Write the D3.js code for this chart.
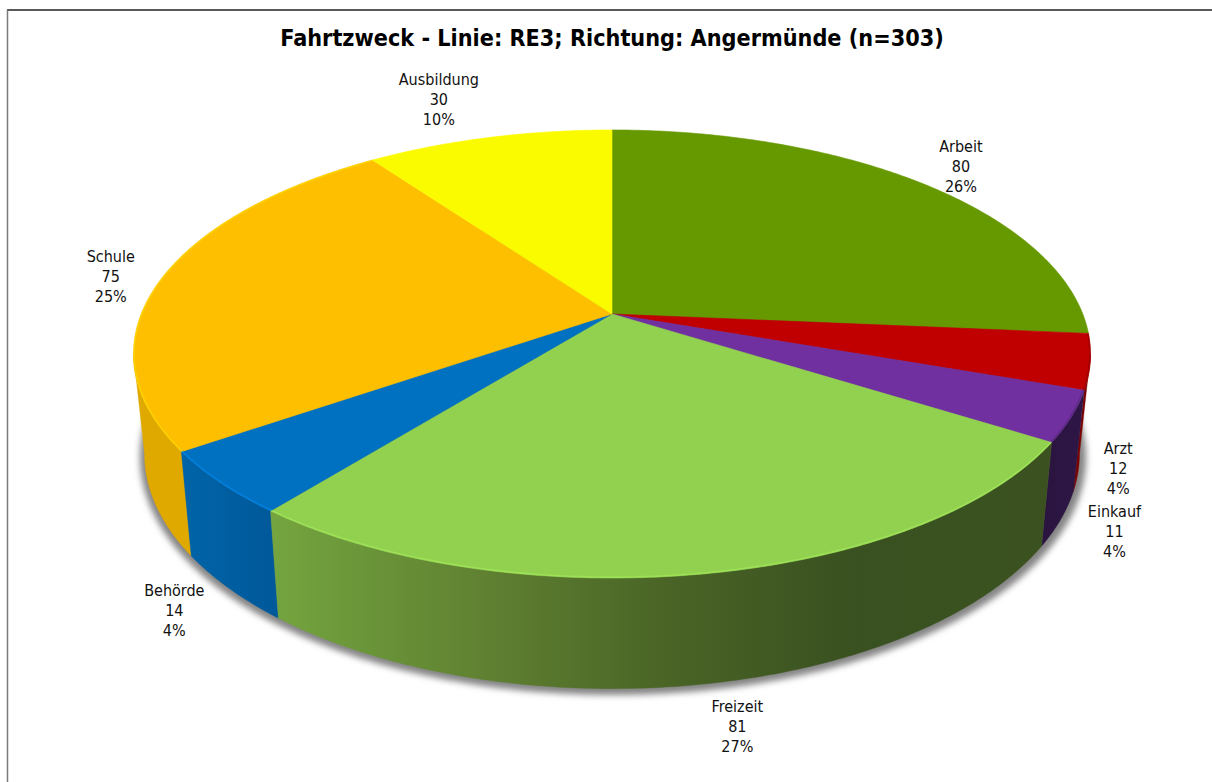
<!DOCTYPE html>
<html><head><meta charset="utf-8">
<script src="https://cdn.jsdelivr.net/npm/d3@7/dist/d3.min.js"></script>
<style>html,body{margin:0;padding:0;background:#fff}svg{display:block}</style>
</head><body><div id="c"></div>
<script>
const titleText = "Fahrtzweck - Linie: RE3; Richtung: Angermünde (n=303)";
const categories = ["Arbeit","Arzt","Einkauf","Freizeit","Behörde","Schule","Ausbildung"];
const counts = [80,12,11,81,14,75,30];
const percents = [26,4,4,27,4,25,10];
const topColors = ["#669900","#c00000","#7030a0","#92d050","#0070c0","#fdbf00","#fbfb00"];
const wallStops = [
  [["#3f5e00",0],["#3f5e00",1]],
  [["#7a0000",0],["#7a0000",1]],
  [["#2e1647",0],["#2b1540",1]],
  [["#3b5220",0],["#3a5120",.12],["#395020",.25],["#4a6526",.5],["#5f8031",.72],["#74a53f",1]],
  [["#00599a",0],["#0064a8",1]],
  [["#dfa900",0],["#dfa900",1]],
  [["#a0a000",0],["#a0a000",1]]
];
// rim shading per slice: colour shift and strength
const rimShift = [0,-.8,-.8,.5,.6,.5,0];
const rimOpacity = [0,.6,.6,.4,.6,.45,0];
// label offset from the rim point of each slice's mid-angle
const labelShift = [[39,-17],[28,107],[43,115],[31,153],[-46,128],[-51,-2],[-50,-38.5]];

const W=1212,H=782;
const cx=612,cy=314,k=.1786,rx=470.8,ry=216.9;
const depthY=97.4,scaleY=1.05,scaleX=.977;
const lineH=20;

const topP=a=>{const u=Math.sin(a),v=-Math.cos(a),w=1-k*v;return [cx+rx*u/w,cy+ry*v/w];};
const botP=a=>{const p=topP(a);return [cx+(p[0]-cx)*scaleX,cy+depthY+(p[1]-cy)*scaleY];};
const sample=(a0,a1,f)=>{const n=Math.max(2,Math.ceil(Math.abs(a1-a0)/0.01));return d3.range(n+1).map(i=>f(a0+(a1-a0)*i/n));};
const line=d3.line();

const svg=d3.select("#c").append("svg").attr("width",W).attr("height",H);
const defs=svg.append("defs");
defs.append("filter").attr("id","sh").attr("x","-5%").attr("y","-5%").attr("width","110%").attr("height","110%")
  .append("feGaussianBlur").attr("stdDeviation",3.4);

// frame
svg.append("line").attr("x1",7).attr("x2",W).attr("y1",10).attr("y2",10).attr("stroke","#222").attr("stroke-width",1.4);
svg.append("line").attr("x1",7.5).attr("x2",7.5).attr("y1",10).attr("y2",H).attr("stroke","#7a7a7a").attr("stroke-width",1.5);

const arcs=d3.pie().sort(null).startAngle(0).endAngle(2*Math.PI)(counts);
const tangent=Math.acos(-k), tangentL=2*Math.PI-tangent;

// shadow
svg.append("path")
  .attr("d",line(sample(0,2*Math.PI,a=>{const p=botP(a);return [cx+(p[0]-cx)*1.012+1,cy+depthY+(p[1]-cy-depthY)*1.012+3];}))+"Z")
  .attr("fill","#858585").attr("filter","url(#sh)");

// walls, back to front
const front=arcs.map((d,i)=>({d,i,a0:Math.max(d.startAngle,tangent),a1:Math.min(d.endAngle,tangentL)})).filter(s=>s.a1>s.a0);
front.sort((p,q)=>Math.abs(Math.PI-(q.a0+q.a1)/2)-Math.abs(Math.PI-(p.a0+p.a1)/2));
const walls=svg.append("g");
front.forEach(s=>{
  const xs=[topP(s.a0)[0],topP(s.a1)[0]];
  const g=defs.append("linearGradient").attr("id","w"+s.i).attr("gradientUnits","userSpaceOnUse")
    .attr("x1",xs[0]).attr("x2",xs[1]).attr("y1",0).attr("y2",0);
  wallStops[s.i].forEach(([c,o])=>g.append("stop").attr("offset",o).attr("stop-color",c));
  const pts=sample(s.a0,s.a1,topP).concat(sample(s.a1,s.a0,botP));
  walls.append("path").attr("d",line(pts)+"Z").attr("fill",`url(#w${s.i})`)
    .attr("stroke",`url(#w${s.i})`).attr("stroke-width",.4);
});

// top faces
const faces=svg.append("g");
arcs.forEach((d,i)=>{
  const pts=[[cx,cy]].concat(sample(d.startAngle,d.endAngle,topP));
  faces.append("path").attr("d",line(pts)+"Z").attr("fill",topColors[i])
    .attr("stroke",topColors[i]).attr("stroke-width",.6).attr("stroke-linejoin","round");
});
// bevel shading on the rim
arcs.forEach((d,i)=>{
  if(!rimOpacity[i]) return;
  const c=d3.color(topColors[i]);
  faces.append("path").attr("d",line(sample(d.startAngle,d.endAngle,a=>{const p=topP(a);return [cx+(p[0]-cx)*.9985,cy+(p[1]-cy)*.9965];})))
    .attr("fill","none")
    .attr("stroke",rimShift[i]<0?c.darker(-rimShift[i]):c.brighter(rimShift[i]))
    .attr("stroke-opacity",rimOpacity[i]).attr("stroke-width",1.6);
});

// title
svg.append("text").attr("x",612).attr("y",46).attr("text-anchor","middle")
  .style("font","bold 23.2px 'DejaVu Sans Condensed','DejaVu Sans'").attr("fill","#000").text(titleText);

// labels
const labels=svg.append("g").style("font","16px 'DejaVu Sans Condensed','DejaVu Sans'").attr("fill","#111").attr("text-anchor","middle");
arcs.forEach((d,i)=>{
  const p=topP((d.startAngle+d.endAngle)/2);
  const x=p[0]+labelShift[i][0],y=p[1]+labelShift[i][1];
  [categories[i],String(counts[i]),percents[i]+"%"].forEach((t,j)=>{
    labels.append("text").attr("x",x).attr("y",y+(j-1)*lineH).attr("dy","0.35em").text(t);
  });
});
</script></body></html>
